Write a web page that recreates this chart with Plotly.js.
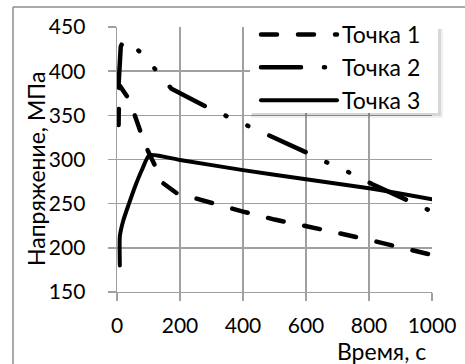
<!DOCTYPE html>
<html>
<head>
<meta charset="utf-8">
<script src="https://cdn.plot.ly/plotly-3.0.1.min.js"></script>
<style>
  html, body { margin: 0; padding: 0; background: #fff; }
  #chart { width: 465px; height: 364px; }
  /* rounded ends for the dashes and dots */
  path.js-line { stroke-linecap: round; stroke-linejoin: round; }
</style>
</head>
<body>
<div id="chart"></div>
<script>
// Time, s and stress, MPa for three measurement points
const seriesNames = ['Точка 1', 'Точка 2', 'Точка 3'];

const t1 = [5, 7, 10, 40, 57, 78, 98, 120, 147, 189, 248, 300, 400, 500, 600, 700, 800, 900, 1000];
const s1 = [339, 384, 383, 367, 349, 328, 310, 292, 273, 262, 256, 250.6, 241, 232, 225, 217, 209, 201, 192];

const t2 = [5, 8, 12, 20, 30, 82, 129, 173, 293, 360, 427, 490, 613, 676, 745, 811, 927, 1000];
const s2 = [385, 410, 428, 434, 435, 419, 399, 380, 358, 347, 336, 327, 306, 295, 284, 272, 253, 241];

const t3 = [9, 9, 20, 38, 58, 80, 103, 200, 400, 600, 800, 1000];
const s3 = [180, 213, 231, 250, 270, 289, 305, 299.5, 288, 277.7, 267.5, 255];

const xTicks = [0, 200, 400, 600, 800, 1000];
const yTicks = [150, 200, 250, 300, 350, 400, 450];

const xTitle = 'Время, с';
const yTitle = 'Напряжение, МПа';

const FONT = 'Lato, "Open Sans", sans-serif';
const TICK_FS = 21;
const TEXT_FS = 23;

const traces = [
  { x: t1, y: s1, name: seriesNames[0], mode: 'lines',
    line: { color: '#000', width: 4.5, dash: '16px,21px' } },
  { x: t2, y: s2, name: seriesNames[1], mode: 'lines',
    line: { color: '#000', width: 4.5, dash: '40px,23px,1px,23px,1px,23px' } },
  { x: t3, y: s3, name: seriesNames[2], mode: 'lines',
    line: { color: '#000', width: 4, shape: 'spline', smoothing: 0.5 } }
];

const gridGray = '#a0a0a0';

const axisCommon = {
  showgrid: true, gridcolor: gridGray, gridwidth: 1.4,
  showline: true, linecolor: gridGray, linewidth: 1.4,
  ticks: 'outside', ticklen: 8, tickwidth: 1.4, tickcolor: gridGray,
  zeroline: false, tickfont: { family: FONT, size: TICK_FS, color: '#000' },
  mirror: false, fixedrange: true
};

// pixel positions converted to paper fractions of the plot area
const L = 117, T = 27, PW = 315, PH = 265;
const px = v => (v - L) / PW;
const py = v => (T + PH - v) / PH;

const layout = {
  width: 465, height: 364,
  margin: { l: 117, r: 33, t: 27, b: 72, pad: 0 },
  paper_bgcolor: '#fff', plot_bgcolor: '#fff',
  font: { family: FONT, size: TEXT_FS, color: '#000' },
  xaxis: Object.assign({}, axisCommon, {
    range: [0, 1000], tickvals: xTicks, ticktext: xTicks.map(String),
    ticklabelstandoff: 6
  }),
  yaxis: Object.assign({}, axisCommon, {
    range: [150, 450], tickvals: yTicks, ticktext: yTicks.map(String),
    ticklabelstandoff: 18
  }),
  showlegend: true,
  legend: {
    x: px(256), y: py(13), xanchor: 'left', yanchor: 'top',
    bgcolor: 'rgba(0,0,0,0)', borderwidth: 0,
    font: { family: FONT, size: TEXT_FS, color: '#000' },
    itemwidth: 76, tracegroupgap: 0
  },
  annotations: [
    { text: xTitle, xref: 'paper', yref: 'paper', x: px(428), y: py(351),
      xanchor: 'right', yanchor: 'middle', showarrow: false,
      font: { family: FONT, size: TEXT_FS, color: '#000' } },
    { text: yTitle, xref: 'paper', yref: 'paper', x: px(36), y: py(169),
      xanchor: 'center', yanchor: 'middle', textangle: -90, showarrow: false,
      font: { family: FONT, size: TEXT_FS, color: '#000' } }
  ],
  shapes: [
    // legend drop shadow, soft edge
    { type: 'rect', xref: 'paper', yref: 'paper', layer: 'above',
      x0: px(251), x1: px(443), y0: py(118), y1: py(29),
      fillcolor: 'rgba(0,0,0,0.06)', line: { width: 0 } },
    { type: 'rect', xref: 'paper', yref: 'paper', layer: 'above',
      x0: px(252), x1: px(441), y0: py(116), y1: py(29),
      fillcolor: 'rgba(0,0,0,0.10)', line: { width: 0 } },
    // legend panel
    { type: 'rect', xref: 'paper', yref: 'paper', layer: 'above',
      x0: px(250), x1: px(438), y0: py(113), y1: py(27),
      fillcolor: '#fff', line: { width: 0 } },
    // chart area frame (left and top edges)
    { type: 'line', xref: 'paper', yref: 'paper', x0: px(13), x1: px(13), y0: py(7), y1: py(380),
      line: { color: '#8c8c8c', width: 1.5 } },
    { type: 'line', xref: 'paper', yref: 'paper', x0: px(13), x1: px(480), y0: py(7), y1: py(7),
      line: { color: '#8c8c8c', width: 1.5 } }
  ]
};

Plotly.newPlot('chart', traces, layout, { displayModeBar: false, staticPlot: true });
</script>
</body>
</html>
